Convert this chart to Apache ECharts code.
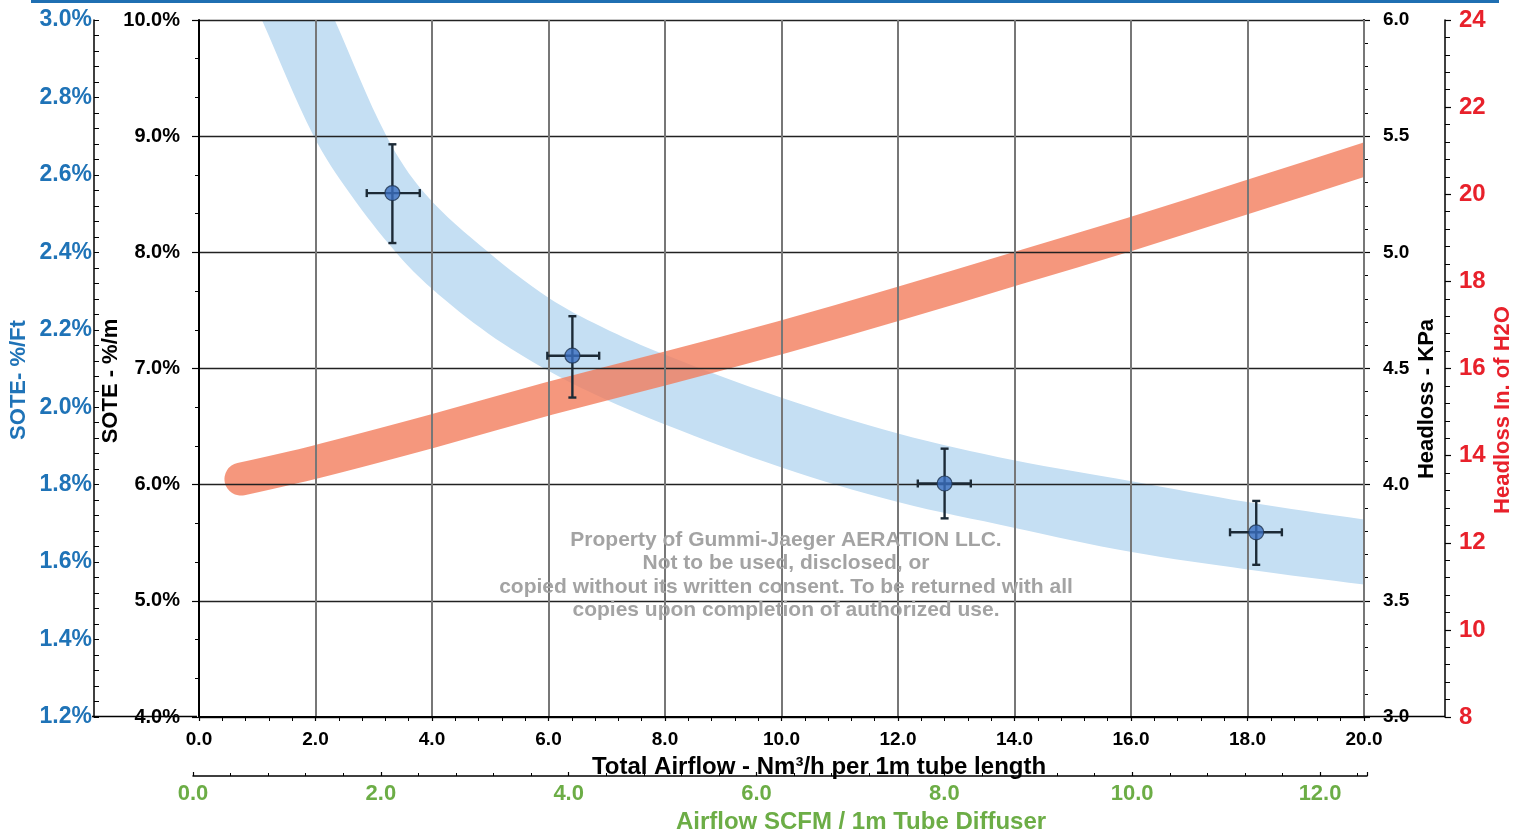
<!DOCTYPE html>
<html>
<head>
<meta charset="utf-8">
<script src="https://cdn.jsdelivr.net/npm/echarts@6/dist/echarts.min.js"></script>
<style>
  html, body { margin: 0; padding: 0; background: #fff; }
  #chart { width: 1528px; height: 839px; }
</style>
</head>
<body>
<div id="chart"></div>
<script>
// ---- Data ----
// Measured SOTE points with error bars (x: Nm3/h per 1m, y: SOTE %/m)
const pointFlow = [3.32, 6.41, 12.80, 18.15];
const pointSote = [8.51, 7.11, 6.01, 5.59];
const soteLow   = [8.08, 6.75, 5.71, 5.31];
const soteHigh  = [8.93, 7.45, 6.31, 5.86];
const flowLow   = [2.88, 5.98, 12.34, 17.70];
const flowHigh  = [3.79, 6.87, 13.25, 18.59];

// SOTE envelope band (upper and lower edges)
const bandUpperX = [1.95, 2.33, 3.22, 3.89, 4.97, 6.00, 6.91, 7.99, 9.99, 12.00, 13.99, 16.01, 18.00, 20.0, 20.96];
const bandUpperY = [10.43, 10.0, 9.0, 8.50, 8.0, 7.61, 7.36, 7.12, 6.75, 6.44, 6.21, 6.03, 5.85, 5.70, 5.64];
const bandLowerX = [0.70, 1.08, 1.97, 2.60, 3.38, 3.99, 4.97, 6.00, 6.91, 7.99, 9.99, 12.00, 13.99, 16.01, 18.00, 20.0, 20.96];
const bandLowerY = [10.43, 10.0, 9.0, 8.5, 8.0, 7.69, 7.30, 6.98, 6.75, 6.52, 6.15, 5.85, 5.63, 5.42, 5.27, 5.14, 5.08];

// Headloss curve (KPa)
const headX = [0.72, 2.0, 4.0, 6.0, 8.0, 10.0, 12.0, 14.0, 16.0, 18.0, 20.0, 20.6];
const headKPa = [4.024, 4.098, 4.23, 4.37, 4.50, 4.634, 4.778, 4.928, 5.079, 5.238, 5.399, 5.45];

// Axis ranges / tick settings
const flowRange = [0, 20, 2];          // Nm3/h
const scfmRange = [0, 12.5, 2];        // SCFM
const soteMRange = [4, 10, 1];         // %/m
const soteFtRange = [1.2, 3.0, 0.2];   // %/ft
const kpaRange = [3, 6, 0.5];
const inh2oRange = [8, 24, 2];

const watermarkLines = [
  'Property of Gummi-Jaeger AERATION LLC.',
  'Not to be used, disclosed, or',
  'copied without its written consent. To be returned with all',
  'copies upon completion of authorized use.'
];

// ---- Chart ----
const FONT = 'Arial, "Liberation Sans", Helvetica, sans-serif';
const BLUE = '#1f73b7', RED = '#e8212b', GREEN = '#6cad46';
const chart = echarts.init(document.getElementById('chart'));

const gridL = 197, gridR = 164, gridT = 20, gridB = 122;

function clipOf(params) {
  const c = params.coordSys;
  return { type: 'rect', shape: { x: c.x, y: c.y, width: c.width, height: c.height } };
}

const errData = pointFlow.map((x, i) => [x, pointSote[i], soteLow[i], soteHigh[i], flowLow[i], flowHigh[i]]);

const option = {
  animation: false,
  backgroundColor: '#fff',
  grid: [
    { left: gridL, right: gridR, top: gridT, bottom: gridB, containLabel: false },
    { left: 193, right: 161, top: 20, bottom: 60, containLabel: false }
  ],
  xAxis: [
    {
      type: 'value', gridIndex: 0, position: 'bottom', z: 3,
      min: flowRange[0], max: flowRange[1], interval: flowRange[2],
      name: 'Total Airflow - Nm³/h per 1m tube length', nameLocation: 'middle', nameGap: 38,
      nameMoveOverlap: false,
      nameTextStyle: { fontFamily: FONT, fontWeight: 'bold', fontSize: 24, color: '#000', padding: [0, 0, 0, 75] },
      axisLine: { show: true, onZero: false, lineStyle: { color: '#000', width: 2 } },
      axisTick: { show: true, inside: false, length: 4, lineStyle: { color: '#000', width: 1.2 } },
      minorTick: { show: true, splitNumber: 5, length: 4, lineStyle: { color: '#000', width: 1 } },
      axisLabel: { fontFamily: FONT, fontWeight: 'bold', fontSize: 19, color: '#000', margin: 13,
        formatter: v => v.toFixed(1) },
      splitLine: { show: true, lineStyle: { color: '#777', width: 2 } }
    },
    {
      type: 'value', gridIndex: 1, position: 'bottom',
      min: scfmRange[0], max: scfmRange[1], interval: scfmRange[2],
      name: 'Airflow SCFM / 1m Tube Diffuser', nameLocation: 'middle', nameGap: 34,
      nameMoveOverlap: false,
      nameTextStyle: { fontFamily: FONT, fontWeight: 'bold', fontSize: 24, color: GREEN, padding: [0, 0, 0, 162] },
      axisLine: { show: true, onZero: false, lineStyle: { color: '#000', width: 1.5 } },
      axisTick: { show: true, inside: true, length: 4, lineStyle: { color: '#000', width: 1.2 } },
      minorTick: { show: true, splitNumber: 5, length: 3, lineStyle: { color: '#000', width: 1 } },
      axisLabel: { fontFamily: FONT, fontWeight: 'bold', fontSize: 22, color: GREEN, margin: 7,
        showMaxLabel: false, formatter: v => v.toFixed(1) },
      splitLine: { show: false }
    }
  ],
  yAxis: [
    {
      type: 'value', gridIndex: 0, position: 'left', z: 3,
      min: soteMRange[0], max: soteMRange[1], interval: soteMRange[2],
      name: 'SOTE - %/m', nameLocation: 'middle', nameGap: 77, nameMoveOverlap: false,
      nameTextStyle: { fontFamily: FONT, fontWeight: 'bold', fontSize: 22, color: '#000', padding: [0, 25, 0, 0] },
      axisLine: { show: true, lineStyle: { color: '#000', width: 2 } },
      axisTick: { show: true, inside: false, length: 7, lineStyle: { color: '#000', width: 1.2 } },
      minorTick: { show: true, splitNumber: 3, length: 4, lineStyle: { color: '#000', width: 1 } },
      axisLabel: { fontFamily: FONT, fontWeight: 'bold', fontSize: 20, color: '#000', margin: 19,
        formatter: v => v.toFixed(1) + '%' },
      splitLine: { show: true, lineStyle: { color: '#222', width: 1.3 } }
    },
    {
      type: 'value', gridIndex: 0, position: 'left', offset: 105,
      min: soteFtRange[0], max: soteFtRange[1], interval: soteFtRange[2],
      name: 'SOTE- %/Ft', nameLocation: 'middle', nameGap: 64, nameMoveOverlap: false,
      nameTextStyle: { fontFamily: FONT, fontWeight: 'bold', fontSize: 22, color: BLUE, padding: [0, 23, 0, 0] },
      axisLine: { show: true, lineStyle: { color: '#000', width: 1.5 } },
      axisTick: { show: true, inside: true, length: 5, lineStyle: { color: '#000', width: 1 } },
      minorTick: { show: true, splitNumber: 5, length: 5, lineStyle: { color: '#000', width: 1 } },
      axisLabel: { fontFamily: FONT, fontWeight: 'bold', fontSize: 23, color: BLUE, margin: 2,
        formatter: v => v.toFixed(1) + '%' },
      splitLine: { show: false }
    },
    {
      type: 'value', gridIndex: 0, position: 'right',
      min: kpaRange[0], max: kpaRange[1], interval: kpaRange[2],
      name: 'Headloss - KPa', nameLocation: 'middle', nameGap: 52, nameMoveOverlap: false,
      nameTextStyle: { fontFamily: FONT, fontWeight: 'bold', fontSize: 22, color: '#000', padding: [0, 61, 0, 0] },
      axisLine: { show: true, lineStyle: { color: '#000', width: 2 } },
      axisTick: { show: true, inside: false, length: 6, lineStyle: { color: '#000', width: 1.2 } },
      minorTick: { show: true, splitNumber: 5, length: 4, lineStyle: { color: '#000', width: 1 } },
      axisLabel: { fontFamily: FONT, fontWeight: 'bold', fontSize: 19, color: '#000', margin: 19,
        formatter: v => v.toFixed(1) },
      splitLine: { show: false }
    },
    {
      type: 'value', gridIndex: 0, position: 'right', offset: 81,
      min: inh2oRange[0], max: inh2oRange[1], interval: inh2oRange[2],
      name: 'Headloss In. of H2O', nameLocation: 'middle', nameGap: 47, nameMoveOverlap: false,
      nameTextStyle: { fontFamily: FONT, fontWeight: 'bold', fontSize: 22, color: RED, padding: [0, 83, 0, 0] },
      axisLine: { show: true, lineStyle: { color: '#000', width: 1.5 } },
      axisTick: { show: true, inside: false, length: 6, lineStyle: { color: '#000', width: 1.2 } },
      minorTick: { show: true, splitNumber: 5, length: 5, lineStyle: { color: '#000', width: 1 } },
      axisLabel: { fontFamily: FONT, fontWeight: 'bold', fontSize: 24, color: RED, margin: 14,
        formatter: v => String(v) },
      splitLine: { show: false }
    },
    { type: 'value', gridIndex: 1, show: false, min: 0, max: 1 }
  ],
  graphic: [
    { type: 'rect', z: 100, shape: { x: 31, y: 0, width: 1468, height: 3 }, style: { fill: '#1f6fb2' } },
    { type: 'line', z: 100, shape: { x1: 92, y1: 716.5, x2: 197, y2: 716.5 }, style: { stroke: '#000', lineWidth: 1.5 } },
    { type: 'line', z: 100, shape: { x1: 1364, y1: 716.5, x2: 1445, y2: 716.5 }, style: { stroke: '#000', lineWidth: 1.5 } }
  ].concat(watermarkLines.map((t, i) => ({
    type: 'text', z: 50, x: 786, y: 540 + i * 23.4,
    style: { text: t, fill: '#a3a3a3', font: 'bold 21px ' + FONT, textAlign: 'center', textVerticalAlign: 'middle' }
  }))),
  series: [
    {
      name: 'SOTE band', type: 'custom', xAxisIndex: 0, yAxisIndex: 0, z: 1, silent: true,
      data: [0],
      renderItem: function (params, api) {
        const up = bandUpperX.map((x, i) => api.coord([x, bandUpperY[i]]));
        const lo = bandLowerX.map((x, i) => api.coord([x, bandLowerY[i]])).reverse();
        return {
          type: 'group',
          clipPath: clipOf(params),
          children: [{
            type: 'polygon',
            shape: { points: up.concat(lo), smooth: 0.35 },
            style: { fill: '#c5dff3', stroke: null }
          }]
        };
      }
    },
    {
      name: 'Headloss', type: 'custom', xAxisIndex: 0, yAxisIndex: 2, z: 2, silent: true,
      data: [0],
      renderItem: function (params, api) {
        const pts = headX.map((x, i) => api.coord([x, headKPa[i]]));
        return {
          type: 'group',
          clipPath: clipOf(params),
          children: [{
            type: 'polyline',
            shape: { points: pts, smooth: 0.3 },
            style: { stroke: 'rgba(242,122,89,0.78)', lineWidth: 33, lineCap: 'round', lineJoin: 'round', fill: null }
          }]
        };
      }
    },
    {
      name: 'Error bars', type: 'custom', xAxisIndex: 0, yAxisIndex: 0, z: 5, silent: true,
      data: errData,
      encode: { x: [0, 4, 5], y: [1, 2, 3] },
      renderItem: function (params, api) {
        const x = api.value(0), y = api.value(1);
        const lo = api.coord([x, api.value(2)]);
        const hi = api.coord([x, api.value(3)]);
        const l = api.coord([api.value(4), y]);
        const r = api.coord([api.value(5), y]);
        const st = { stroke: '#1c2a36', lineWidth: 2.4 };
        const capV = 4, capH = 4;
        const ln = (x1, y1, x2, y2) => ({ type: 'line', shape: { x1, y1, x2, y2 }, style: st });
        return {
          type: 'group',
          children: [
            ln(lo[0], lo[1], hi[0], hi[1]),
            ln(hi[0] - capV, hi[1], hi[0] + capV, hi[1]),
            ln(lo[0] - capV, lo[1], lo[0] + capV, lo[1]),
            ln(l[0], l[1], r[0], r[1]),
            ln(l[0], l[1] - capH, l[0], l[1] + capH),
            ln(r[0], r[1] - capH, r[0], r[1] + capH)
          ]
        };
      }
    },
    {
      name: 'SOTE', type: 'scatter', xAxisIndex: 0, yAxisIndex: 0, z: 6,
      data: pointFlow.map((x, i) => [x, pointSote[i]]),
      symbol: 'circle', symbolSize: 15,
      itemStyle: { color: '#3a6ebf', borderColor: '#1f3550', borderWidth: 1.2 }
    }
  ]
};

chart.setOption(option);
</script>
</body>
</html>
